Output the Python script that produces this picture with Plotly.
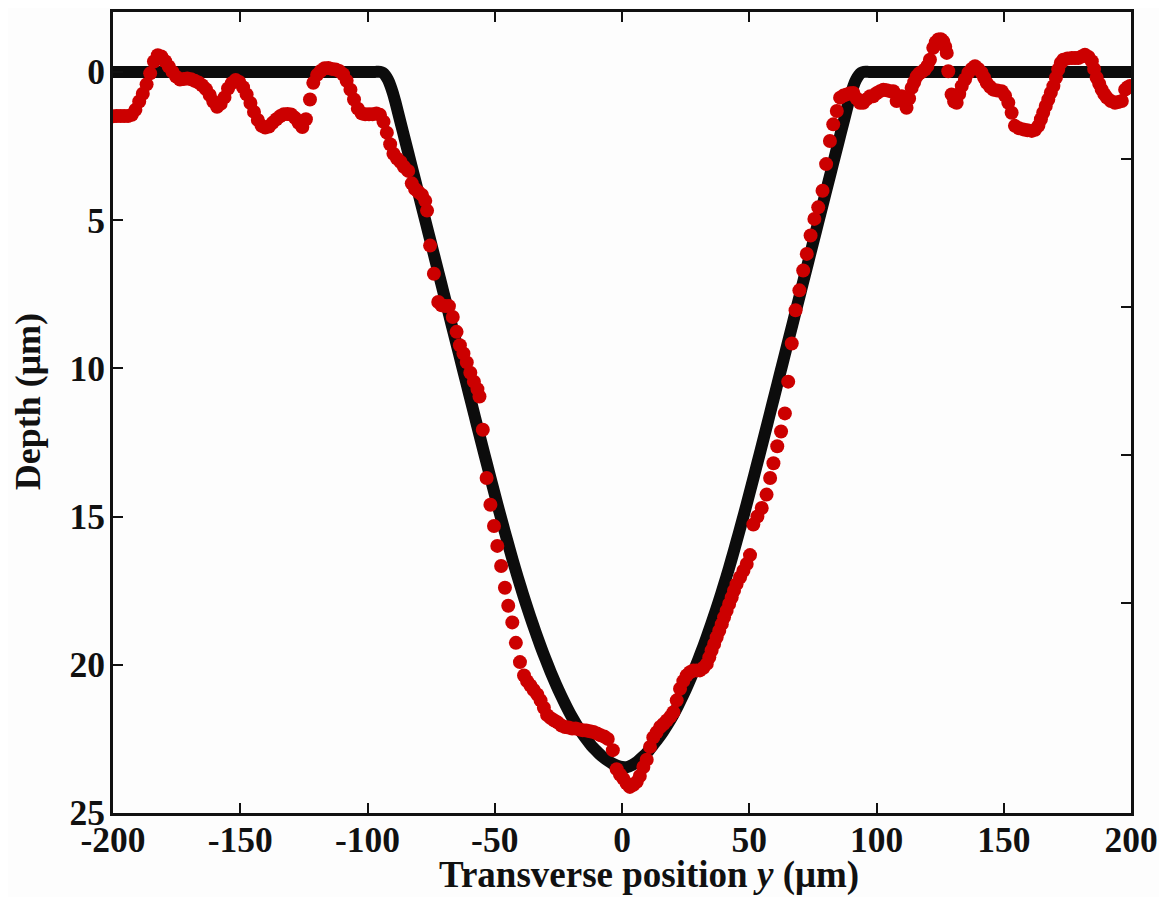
import plotly.graph_objects as go

# Theoretical profile (black curve)
fit_x = [-200, -150, -110, -100, -97, -95, -94, -93, -92, -91, -90, -89, -88, -86, -84, -82,
         -80, -78, -76, -74, -72, -70, -68, -66, -64, -62, -60, -58, -56, -54, -52, -50, -48,
         -46, -44, -42, -40, -38, -36, -34, -32, -30, -28, -26, -24, -22, -20, -18, -16, -14,
         -12, -10, -8, -6, -4, -2, 0, 2, 4, 6, 8, 10, 12, 14, 16, 18, 20, 22, 24, 26, 28, 30,
         32, 34, 36, 38, 40, 42, 44, 46, 48, 50, 52, 54, 56, 58, 60, 62, 64, 66, 68, 70, 72,
         74, 76, 78, 80, 82, 84, 86, 88, 89, 90, 91, 92, 93, 94, 95, 97, 100, 110, 150, 200]
fit_y = [0, 0, 0, 0, 0, 0, 0.03, 0.12, 0.26, 0.46, 0.72, 1.03, 1.37, 2.05, 2.73, 3.41,
         4.09, 4.77, 5.45, 6.13, 6.81, 7.49, 8.17, 8.85, 9.53, 10.21, 10.89, 11.57, 12.25,
         12.92, 13.59, 14.25, 14.90, 15.53, 16.15, 16.75, 17.32, 17.87, 18.39, 18.89, 19.37,
         19.82, 20.25, 20.65, 21.03, 21.38, 21.71, 22.00, 22.27, 22.51, 22.73, 22.91, 23.08,
         23.21, 23.32, 23.40, 23.45, 23.45, 23.38, 23.27, 23.12, 22.95, 22.73, 22.51, 22.27,
         22.00, 21.71, 21.38, 21.03, 20.65, 20.25, 19.82, 19.37, 18.89, 18.39, 17.87, 17.32,
         16.75, 16.15, 15.53, 14.90, 14.25, 13.59, 12.92, 12.25, 11.57, 10.89, 10.21, 9.53,
         8.85, 8.17, 7.49, 6.81, 6.13, 5.45, 4.77, 4.09, 3.41, 2.73, 2.05, 1.37, 1.03, 0.72,
         0.46, 0.26, 0.12, 0.03, 0, 0, 0, 0, 0, 0]

# Measured profile (red dots)
meas_x = [-200.0, -198.5, -197.0, -195.6, -194.1, -192.6, -191.2, -189.7, -188.3, -186.8,
          -185.4, -183.9, -182.4, -181.0, -179.5, -178.1, -176.6, -175.2, -173.7, -172.2,
          -170.8, -169.3, -167.9, -166.4, -165.0, -163.5, -162.0, -160.6, -159.1, -157.7,
          -156.2, -154.8, -153.3, -151.8, -150.4, -148.9, -147.5, -146.0, -144.6, -143.1,
          -141.6, -140.2, -138.7, -137.3, -135.8, -134.4, -132.9, -131.4, -130.0, -128.5,
          -127.1, -125.6, -124.2, -122.6, -121.3, -119.8, -118.4, -116.9, -115.4, -114.0,
          -112.5, -111.1, -109.6, -108.2, -106.7, -105.3, -103.8, -102.3, -100.9, -99.4,
          -98.0, -96.5, -95.1, -93.7, -92.4, -91.1, -89.8, -88.4, -87.0, -85.7,
          -84.0, -82.6, -81.3, -80.0, -78.6, -77.3, -76.6, -75.4, -73.9, -72.2,
          -70.9, -69.5, -68.0, -66.5, -65.0, -63.7, -62.3, -61.0, -59.6, -58.2,
          -56.8, -56.0, -54.7, -53.2, -51.7, -50.3, -49.0, -47.5, -46.0, -44.7,
          -43.1, -41.7, -40.1, -38.5, -37.3, -36.0, -34.7, -33.3, -32.0, -30.7,
          -29.4, -28.0, -26.6, -25.2, -23.8, -22.4, -21.0, -19.6, -18.2, -16.8,
          -15.4, -14.0, -12.6, -11.2, -9.8, -8.4, -7.0, -5.6, -3.6, -2.1,
          -0.8, 0.5, 1.8, 3.1, 4.5, 5.8, 7.0, 8.4, 9.7, 11.0,
          12.3, 13.6, 15.0, 16.3, 17.6, 19.0, 20.2, 21.5, 22.8, 24.1,
          25.4, 26.7, 28.0, 29.3, 30.6, 32.0, 33.3, 34.3, 35.2, 36.2,
          37.2, 38.2, 39.2, 40.1, 41.1, 42.1, 43.1, 44.0, 45.0, 46.4,
          47.7, 49.0, 50.3, 51.6, 53.2, 54.9, 56.8, 58.2, 59.5, 61.0,
          62.5, 64.0, 65.3, 66.7, 68.2, 69.7, 71.2, 72.6, 74.1, 75.6,
          77.1, 78.8, 80.2, 81.7, 83.0, 84.4, 85.7, 87.0, 88.3, 89.6,
          90.9, 92.2, 93.5, 94.8, 96.2, 97.5, 98.7, 100.0, 101.4, 102.7,
          104.0, 105.3, 106.6, 107.9, 109.9, 110.9, 111.8, 112.8, 113.8, 114.8,
          115.8, 116.8, 117.8, 119.0, 120.0, 121.0, 122.3, 123.3, 124.3, 125.3,
          126.2, 127.0, 127.6, 128.2, 129.5, 130.5, 131.5, 132.5, 133.5, 134.8,
          136.1, 137.4, 138.7, 140.0, 141.3, 142.3, 143.3, 144.6, 145.9, 147.5,
          149.2, 150.5, 151.8, 153.1, 154.4, 156.0, 157.7, 159.3, 161.0, 162.3,
          163.6, 164.6, 165.5, 166.5, 167.5, 168.5, 169.5, 170.5, 171.4, 172.4,
          173.4, 175.0, 176.7, 178.0, 179.3, 180.6, 181.9, 183.3, 184.6, 185.5,
          186.5, 187.5, 188.5, 189.5, 190.5, 192.1, 193.7, 195.0, 196.4, 197.7,
          198.7, 199.6]
meas_y = [1.50, 1.49, 1.49, 1.49, 1.49, 1.45, 1.28, 1.00, 0.74, 0.42,
          0.05, -0.35, -0.56, -0.52, -0.36, -0.18, 0.00, 0.16, 0.26, 0.24,
          0.22, 0.25, 0.30, 0.36, 0.45, 0.58, 0.78, 1.00, 1.18, 1.08,
          0.86, 0.56, 0.38, 0.27, 0.34, 0.52, 0.76, 1.05, 1.35, 1.62,
          1.82, 1.88, 1.84, 1.72, 1.60, 1.50, 1.43, 1.42, 1.44, 1.55,
          1.72, 1.86, 1.60, 0.93, 0.37, 0.10, -0.03, -0.12, -0.13, -0.10,
          -0.08, -0.03, 0.08, 0.30, 0.60, 0.93, 1.24, 1.40, 1.43, 1.43,
          1.43, 1.40, 1.45, 1.68, 2.05, 2.44, 2.76, 2.92, 3.04, 3.20,
          3.34, 3.76, 3.95, 4.05, 4.15, 4.35, 4.68, 5.86, 6.81, 7.76,
          7.87, 7.90, 7.90, 8.27, 8.77, 9.22, 9.50, 9.80, 10.15, 10.45,
          10.70, 10.95, 12.07, 13.70, 14.60, 15.32, 15.99, 16.67, 17.40, 18.01,
          18.57, 19.26, 19.91, 20.36, 20.55, 20.70, 20.85, 21.00, 21.20, 21.45,
          21.70, 21.80, 21.88, 21.95, 22.05, 22.10, 22.12, 22.15, 22.15, 22.18,
          22.21, 22.22, 22.24, 22.27, 22.32, 22.38, 22.42, 22.50, 22.88, 23.52,
          23.70, 23.84, 24.00, 24.12, 24.05, 23.95, 23.75, 23.45, 23.20, 22.77,
          22.45, 22.28, 22.10, 22.00, 21.88, 21.75, 21.60, 21.20, 20.81, 20.55,
          20.36, 20.25, 20.19, 20.19, 20.19, 20.10, 19.97, 19.75, 19.52, 19.30,
          19.07, 18.85, 18.63, 18.40, 18.18, 17.95, 17.73, 17.50, 17.28, 17.05,
          16.83, 16.60, 16.30, 15.27, 15.00, 14.71, 14.26, 13.70, 13.20, 12.63,
          12.13, 11.52, 10.45, 9.16, 8.04, 7.37, 6.70, 6.14, 5.52, 4.96,
          4.57, 4.01, 3.11, 2.33, 1.77, 1.32, 0.87, 0.80, 0.76, 0.72,
          0.71, 0.90, 1.04, 1.04, 0.92, 0.82, 0.82, 0.72, 0.65, 0.60,
          0.62, 0.65, 0.65, 0.98, 0.82, 1.00, 1.21, 0.90, 0.54, 0.35,
          0.15, 0.05, 0.00, -0.08, -0.20, -0.41, -0.81, -1.00, -1.09, -1.10,
          -1.03, -0.85, -0.64, -0.02, 0.76, 1.00, 1.04, 0.75, 0.48, 0.25,
          0.03, -0.10, -0.19, -0.10, 0.03, 0.20, 0.37, 0.50, 0.60, 0.63,
          0.65, 0.80, 1.04, 1.38, 1.82, 1.90, 1.94, 1.97, 1.99, 1.95,
          1.82, 1.60, 1.38, 1.15, 0.93, 0.70, 0.48, 0.20, -0.08, -0.30,
          -0.41, -0.45, -0.47, -0.47, -0.47, -0.52, -0.58, -0.50, -0.36, -0.10,
          0.20, 0.40, 0.60, 0.75, 0.87, 0.98, 1.04, 1.02, 0.98, 0.60,
          0.52, 0.48]

x_tick_vals = [-200, -150, -100, -50, 0, 50, 100, 150, 200]
x_tick_text = ["-200", "-150", "-100", "-50", "0", "50", "100", "150", "200"]
y_tick_vals = [0, 5, 10, 15, 20, 25]
y_tick_text = ["0", "5", "10", "15", "20", "25"]
y_right_tick_vals = [2.93, 7.93, 12.93, 17.93]

FONT = "Liberation Serif, Times New Roman, serif"
BG = "#fdfdfd"
INK = "#111111"

fig = go.Figure()
fig.add_trace(go.Scatter(x=fit_x, y=fit_y, mode="lines",
                         line=dict(color="#0c0c0c", width=12, shape="spline", smoothing=0.5),
                         showlegend=False, hoverinfo="skip"))
fig.add_trace(go.Scatter(x=meas_x, y=meas_y, mode="markers",
                         marker=dict(color="#cc0000", size=14, line=dict(width=0)),
                         showlegend=False))
fig.add_trace(go.Scatter(x=[None], y=[None], yaxis="y2", showlegend=False, hoverinfo="skip"))

axis_common = dict(showgrid=False, zeroline=False, ticks="inside", ticklen=10, tickwidth=2,
                   tickcolor=INK, linecolor=INK, linewidth=3,
                   tickfont=dict(family=FONT, size=35.5, color=INK, weight="bold"))

fig.update_layout(
    width=1151, height=889,
    margin=dict(l=105, r=28, t=1, b=84),
    paper_bgcolor=BG, plot_bgcolor=BG,
    xaxis=dict(range=[-200, 200], tickmode="array", tickvals=x_tick_vals, ticktext=x_tick_text,
               mirror="ticks", showline=True, ticklabelstandoff=-7, **axis_common),
    yaxis=dict(range=[25, -2.02], tickmode="array", tickvals=y_tick_vals, ticktext=y_tick_text,
               mirror=True, showline=True, ticklabelstandoff=-2, **axis_common),
    yaxis2=dict(range=[25, -2.02], overlaying="y", side="right", tickmode="array",
                tickvals=y_right_tick_vals, showticklabels=False, showline=False,
                showgrid=False, zeroline=False, ticks="inside", ticklen=10, tickwidth=2,
                tickcolor=INK),
    annotations=[
        dict(text="<b>Transverse position <i>y</i> (μm)</b>", xref="paper", yref="paper",
             x=0.527, y=-0.078, xanchor="center", yanchor="middle", showarrow=False,
             font=dict(family=FONT, size=37, color=INK)),
        dict(text="<b>Depth (μm)</b>", xref="paper", yref="paper", textangle=-90,
             x=-0.0835, y=0.514, xanchor="center", yanchor="middle", showarrow=False,
             font=dict(family=FONT, size=36, color=INK)),
    ],
)

fig.write_html("out.html")
